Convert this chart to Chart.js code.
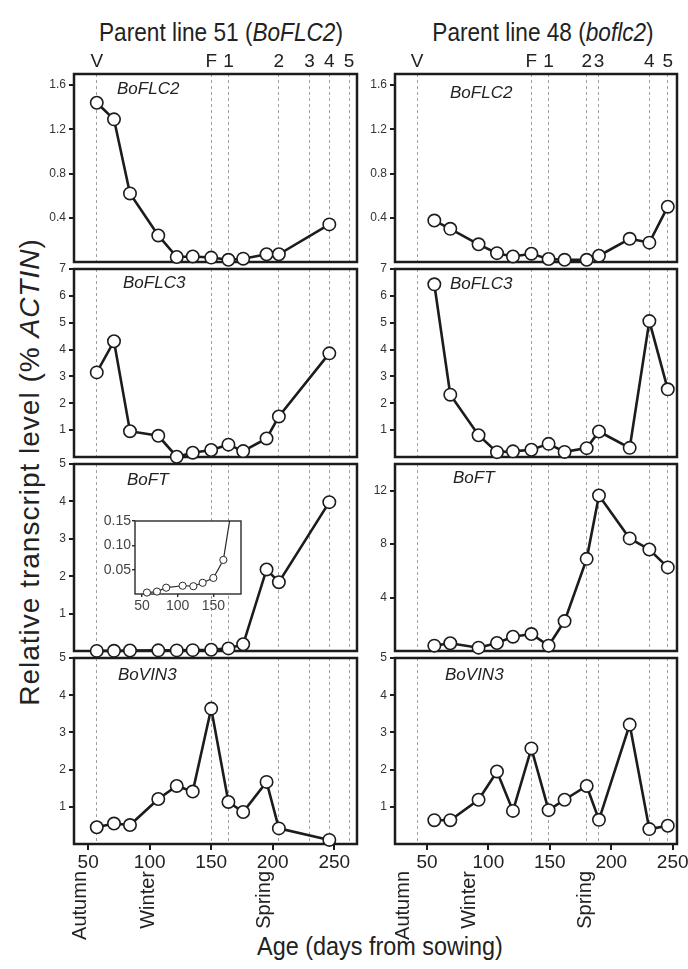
<!DOCTYPE html>
<html>
<head>
<meta charset="utf-8">
<script src="https://cdn.jsdelivr.net/npm/chart.js@4.4.0/dist/chart.umd.min.js"></script>
<style>
  body { margin: 0; background: #fff; width: 688px; height: 969px; position: relative; overflow: hidden;
         font-family: "Liberation Sans", Arial, sans-serif; color: #222; }
  canvas { position: absolute; }
  .txt { position: absolute; white-space: nowrap; transform: translate(-50%, -50%); }
  .gene { position: absolute; white-space: nowrap; font-style: italic; font-size: 17px; transform: translateY(-50%); }
</style>
</head>
<body>
<div class="txt" style="left:221px; top:32px; font-size:26px; transform: translate(-50%,-50%) scaleX(0.87);">Parent line 51 (<i>BoFLC2</i>)</div>
<div class="txt" style="left:543px; top:32px; font-size:26px; transform: translate(-50%,-50%) scaleX(0.87);">Parent line 48 (<i>boflc2</i>)</div>
<div class="txt" style="left:30px; top:472px; font-size:28px; letter-spacing:1px; transform: translate(-50%,-50%) rotate(-90deg);">Relative transcript level (% <i>ACTIN</i>)</div>
<div class="txt" style="left:380px; top:946px; font-size:26px; transform: translate(-50%,-50%) scaleX(0.9);">Age (days from sowing)</div>

<script>
// ---- data ----
const genes = ['BoFLC2', 'BoFLC3', 'BoFT', 'BoVIN3'];

// parent line 51 (left)
const daysL  = [57, 71, 84, 107, 122, 135, 150, 164, 176, 195, 205, 246];
const flc2L  = [1.44, 1.29, 0.62, 0.24, 0.045, 0.05, 0.04, 0.02, 0.03, 0.07, 0.07, 0.34];
const flc3L  = [3.15, 4.31, 0.96, 0.79, 0.01, 0.16, 0.26, 0.46, 0.22, 0.69, 1.51, 3.86];
const ftL    = [0.003, 0.005, 0.013, 0.017, 0.016, 0.023, 0.033, 0.07, 0.18, 2.18, 1.84, 3.98];
const vin3L  = [0.45, 0.55, 0.51, 1.21, 1.56, 1.41, 3.64, 1.13, 0.86, 1.67, 0.42, 0.11];

// parent line 48 (right)
const daysR  = [56, 69, 92, 107, 120, 135, 149, 162, 180, 190, 215, 231, 246];
const flc2R  = [0.375, 0.30, 0.16, 0.08, 0.05, 0.075, 0.027, 0.02, 0.02, 0.057, 0.21, 0.175, 0.50];
const flc3R  = [6.43, 2.32, 0.81, 0.18, 0.21, 0.27, 0.49, 0.19, 0.33, 0.95, 0.34, 5.06, 2.52];
const ftR    = [0.40, 0.58, 0.25, 0.60, 1.07, 1.27, 0.40, 2.24, 6.90, 11.64, 8.43, 7.60, 6.26];
const vin3R  = [0.64, 0.64, 1.19, 1.95, 0.89, 2.57, 0.91, 1.19, 1.56, 0.65, 3.21, 0.40, 0.49];

// developmental events (dashed lines)
const eventLabels = ['V', 'F', '1', '2', '3', '4', '5'];
const eventDaysL  = [57, 150, 164, 205, 230, 246, 262];
const eventDaysR  = [42, 135, 149, 180, 190, 231, 246];

// x axis
const xTicks = [50, 100, 150, 200, 250];
const xRangeL = [38.5, 268.5];
const xRangeR = [24, 253.5];
const seasonLabels = ['Autumn', 'Winter', 'Spring'];
const seasonDaysL = [44, 99, 193];
const seasonDaysR = [31, 85, 179];

// y axes per row
const yMaxL = [1.7, 7, 5, 5];
const yMaxR = [1.7, 7, 14, 5];
const yTicksL = [[0.4, 0.8, 1.2, 1.6], [1, 2, 3, 4, 5, 6, 7], [1, 2, 3, 4, 5], [1, 2, 3, 4, 5]];
const yTicksR = [[0.4, 0.8, 1.2, 1.6], [1, 2, 3, 4, 5, 6, 7], [4, 8, 12], [1, 2, 3, 4, 5]];

// inset (BoFT, line 51, low range)
const insetYTicks = [0.05, 0.10, 0.15];
const insetXTicks = [50, 100, 150];
const insetYMax = 0.15;
const insetXRange = [40.3, 188.7];

// ---- layout ----
const colLeft = [74, 395], colRight = [357, 677];
const rowTop = [74, 269, 464, 658], rowBottom = [262, 457, 651, 844];
const genePos = [[[117, 89], [123, 283], [127, 480], [118, 675]],
                 [[450, 93], [450, 284], [453, 478], [445, 675]]];

Chart.defaults.font.family = '"Liberation Sans", Arial, sans-serif';
Chart.defaults.color = '#222';
Chart.defaults.animation = false;

function fixSize(size) {
  return function (scale) {
    if (scale.isHorizontal()) scale.height = size; else scale.width = size;
    scale.paddingLeft = scale.paddingRight = scale.paddingTop = scale.paddingBottom = 0;
  };
}
function setTicks(values) {
  return function (scale) { scale.ticks = values.map(v => ({ value: v })); };
}

const framePlugin = {
  id: 'frame',
  beforeDatasetsDraw(chart, args, opts) {
    const a = chart.chartArea, ctx = chart.ctx;
    ctx.save();
    if (opts.fill) {
      ctx.fillStyle = opts.fill;
      ctx.fillRect(a.left, a.top, a.right - a.left, a.bottom - a.top);
    }
    ctx.lineWidth = opts.width;
    ctx.strokeStyle = opts.color;
    ctx.strokeRect(a.left, a.top, a.right - a.left, a.bottom - a.top);
    ctx.restore();
  }
};

const seasonPlugin = {
  id: 'seasons',
  afterDraw(chart, args, opts) {
    if (!opts.labels) return;
    const ctx = chart.ctx, xs = chart.scales.x;
    ctx.save();
    ctx.font = '20px "Liberation Sans", Arial, sans-serif';
    ctx.fillStyle = '#222';
    ctx.textAlign = 'right';
    ctx.textBaseline = 'middle';
    opts.labels.forEach((t, i) => {
      ctx.save();
      ctx.translate(xs.getPixelForValue(opts.days[i]), chart.chartArea.bottom + 27);
      ctx.rotate(-Math.PI / 2);
      ctx.fillText(t, 0, 0);
      ctx.restore();
    });
    ctx.restore();
  }
};

function addCanvas(left, top, w, h) {
  const cv = document.createElement('canvas');
  cv.width = w; cv.height = h;
  cv.style.left = left + 'px';
  cv.style.top = top + 'px';
  document.body.appendChild(cv);
  return cv;
}

function makePanel(col, row) {
  const days = col ? daysR : daysL;
  const vals = (col ? [flc2R, flc3R, ftR, vin3R] : [flc2L, flc3L, ftL, vin3L])[row];
  const xr = col ? xRangeR : xRangeL;
  const yMax = (col ? yMaxR : yMaxL)[row];
  const yTicks = (col ? yTicksR : yTicksL)[row];
  const evDays = col ? eventDaysR : eventDaysL;

  const yW = 44, padR = 14;
  const topH = row === 0 ? 30 : 0, padT = row === 0 ? 0 : 10;
  const botH = row === 3 ? 30 : 0, padB = row === 3 ? 76 : 10;
  const fw = colRight[col] - colLeft[col], fh = rowBottom[row] - rowTop[row];
  const cv = addCanvas(colLeft[col] - yW, rowTop[row] - topH - padT,
                       yW + fw + padR, padT + topH + fh + botH + padB);

  new Chart(cv, {
    type: 'line',
    data: {
      datasets: [{
        data: days.map((d, i) => ({ x: d, y: vals[i] })),
        borderColor: '#1c1c1c',
        borderWidth: 2.6,
        pointRadius: 6.2,
        pointBorderWidth: 1.6,
        pointBorderColor: '#1c1c1c',
        pointBackgroundColor: '#fff',
        tension: 0,
        clip: false
      }]
    },
    options: {
      responsive: false,
      layout: { padding: { left: 0, right: padR, top: padT, bottom: padB } },
      plugins: {
        legend: { display: false },
        tooltip: { enabled: false },
        frame: { width: 2.5, color: '#1c1c1c' },
        seasons: row === 3 ? { labels: seasonLabels, days: col ? seasonDaysR : seasonDaysL } : {}
      },
      scales: {
        x: {
          type: 'linear', position: 'bottom', min: xr[0], max: xr[1],
          display: row === 3,
          afterBuildTicks: setTicks(xTicks),
          afterFit: fixSize(botH),
          ticks: { autoSkip: false, maxRotation: 0, padding: 1, color: '#222', font: { size: 19 } },
          grid: { drawOnChartArea: false, drawTicks: true, tickLength: 6, color: '#1c1c1c', lineWidth: 2 },
          border: { display: false }
        },
        ev: {
          type: 'linear', position: 'top', min: xr[0], max: xr[1],
          afterBuildTicks: setTicks(evDays),
          afterFit: fixSize(topH),
          ticks: { display: row === 0, autoSkip: false, maxRotation: 0, padding: 1, color: '#222',
                   font: { size: 19 },
                   callback: (v, i) => eventLabels[i] },
          grid: { drawTicks: false, color: '#a0a0a0', lineWidth: 1 },
          border: { display: false, dash: [3, 3] }
        },
        y: {
          type: 'linear', position: 'left', min: 0, max: yMax,
          afterBuildTicks: setTicks(yTicks),
          afterFit: fixSize(yW),
          ticks: { autoSkip: false, padding: 3, color: '#333', font: { size: 12 },
                   callback: v => row === 0 ? v.toFixed(1) : String(v) },
          grid: { drawOnChartArea: false, drawTicks: true, tickLength: 5, color: '#1c1c1c', lineWidth: 2 },
          border: { display: false }
        }
      }
    },
    plugins: [framePlugin, seasonPlugin]
  });

  const g = document.createElement('div');
  g.className = 'gene';
  g.textContent = genes[row];
  g.style.left = genePos[col][row][0] + 'px';
  g.style.top = genePos[col][row][1] + 'px';
  document.body.appendChild(g);
}

for (let col = 0; col < 2; col++)
  for (let row = 0; row < 4; row++) makePanel(col, row);

// inset in BoFT panel of line 51
(function () {
  const L = 135, R = 242, T = 521, B = 594;
  const yW = 38, xH = 20, padT = 8, padR = 4, padB = 2;
  const cv = addCanvas(L - yW, T - padT, yW + (R - L) + padR, padT + (B - T) + xH + padB);
  new Chart(cv, {
    type: 'line',
    data: {
      datasets: [{
        data: daysL.map((d, i) => ({ x: d, y: ftL[i] })),
        borderColor: '#2a2a2a',
        borderWidth: 1.2,
        pointRadius: 3.6,
        pointBorderWidth: 1,
        pointBorderColor: '#2a2a2a',
        pointBackgroundColor: '#fff',
        tension: 0,
        clip: { left: 5, right: 0, top: 0, bottom: 5 }
      }]
    },
    options: {
      responsive: false,
      layout: { padding: { left: 0, right: padR, top: padT, bottom: padB } },
      plugins: {
        legend: { display: false },
        tooltip: { enabled: false },
        frame: { width: 1.4, color: '#2a2a2a', fill: '#fff' }
      },
      scales: {
        x: {
          type: 'linear', min: insetXRange[0], max: insetXRange[1],
          afterBuildTicks: setTicks(insetXTicks),
          afterFit: fixSize(xH),
          ticks: { autoSkip: false, maxRotation: 0, padding: 1, color: '#444', font: { size: 14 } },
          grid: { drawOnChartArea: false, tickLength: 3, color: '#2a2a2a', lineWidth: 1.4 },
          border: { display: false }
        },
        y: {
          type: 'linear', min: 0, max: insetYMax,
          afterBuildTicks: setTicks(insetYTicks),
          afterFit: fixSize(yW),
          ticks: { autoSkip: false, padding: 1, color: '#444', font: { size: 14 },
                   callback: v => v.toFixed(2) },
          grid: { drawOnChartArea: false, tickLength: 3, color: '#2a2a2a', lineWidth: 1.4 },
          border: { display: false }
        }
      }
    },
    plugins: [framePlugin]
  });
})();
</script>
</body>
</html>
